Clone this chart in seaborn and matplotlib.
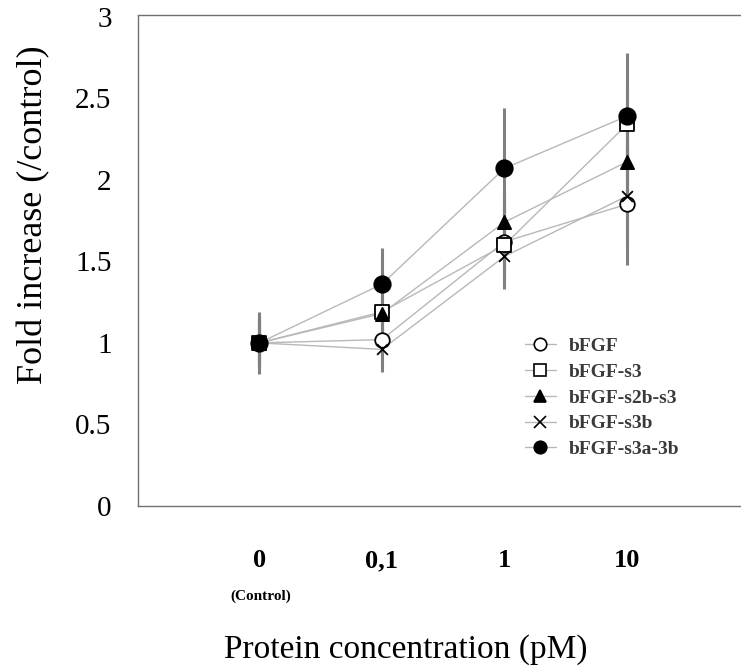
import numpy as np
import pandas as pd
import matplotlib
matplotlib.use("Agg")
import matplotlib.pyplot as plt
import seaborn as sns
from matplotlib.lines import Line2D

# data
concentrations = ["0", "0,1", "1", "10"]
series_names = ["bFGF", "bFGF-s3", "bFGF-s2b-s3", "bFGF-s3b", "bFGF-s3a-3b"]

bfgf = [1.00, 1.02, 1.62, 1.85]
bfgf_s3 = [1.00, 1.19, 1.60, 2.34]
bfgf_s2b_s3 = [1.00, 1.18, 1.74, 2.11]
bfgf_s3b = [1.00, 0.96, 1.53, 1.90]
bfgf_s3a_3b = [1.00, 1.36, 2.07, 2.39]

err_bfgf = [0.15, 0.10, 0.20, 0.37]
err_s3 = [0.15, 0.12, 0.27, 0.25]
err_s2b_s3 = [0.12, 0.10, 0.20, 0.20]
err_s3b = [0.18, 0.14, 0.18, 0.30]
err_s3a_3b = [0.19, 0.22, 0.37, 0.39]

values = [bfgf, bfgf_s3, bfgf_s2b_s3, bfgf_s3b, bfgf_s3a_3b]
errors = [err_bfgf, err_s3, err_s2b_s3, err_s3b, err_s3a_3b]

# marker styles: (marker, facecolor, size)
styles = {
    "bFGF": ("o", "white", 110),
    "bFGF-s3": ("s", "white", 100),
    "bFGF-s2b-s3": ("^", "black", 90),
    "bFGF-s3b": ("x", "black", 60),
    "bFGF-s3a-3b": ("o", "black", 140),
}

rows = []
for name, ys, es in zip(series_names, values, errors):
    for i, (y, e) in enumerate(zip(ys, es)):
        rows.append({"series": name, "pos": i, "fold": y, "err": e})
df = pd.DataFrame(rows)

sns.set_style("white")
plt.rcParams["font.family"] = ["Liberation Serif", "DejaVu Serif"]
plt.rcParams["text.color"] = "black"

fig = plt.figure(figsize=(7.41, 6.71), dpi=100)
ax = fig.add_axes([138 / 741, 1 - 506 / 671, 1 - 138 / 741, 491 / 671])

# error bars (drawn first, behind the lines)
for name in series_names:
    d = df[df["series"] == name]
    ax.errorbar(d["pos"], d["fold"], yerr=d["err"], fmt="none",
                ecolor="#808080", elinewidth=2.2, capsize=0, zorder=1)

# connecting lines
sns.lineplot(data=df, x="pos", y="fold", units="series", estimator=None,
             color="#b8b8b8", linewidth=1.0, ax=ax, zorder=2, legend=False)

# markers
for name in series_names:
    d = df[df["series"] == name]
    m, fc, s = styles[name]
    if m == "x":
        sns.scatterplot(x=d["pos"], y=d["fold"], marker="x", color="black",
                        s=s, linewidth=1.3, ax=ax, zorder=3, legend=False)
    else:
        sns.scatterplot(x=d["pos"], y=d["fold"], marker=m, facecolor=fc,
                        edgecolor="black", s=s, linewidth=1.3, ax=ax,
                        zorder=3, legend=False)

ax.set_xlim(-0.99, 3.93)
ax.set_ylim(0, 3.01)
ax.set_xticks(range(len(concentrations)))
ax.set_xticklabels(concentrations, fontsize=19, fontweight="bold", color="black")
ax.set_yticks([0, 0.5, 1, 1.5, 2, 2.5, 3])
ax.set_yticklabels(["0", "0.5", "1", "1.5", "2", "2.5", "3"], fontsize=21,
                   color="black")
ax.tick_params(axis="x", length=0, pad=31)
ax.tick_params(axis="y", length=0, pad=19)
ax.set_xlabel("")
ax.set_ylabel("")

for side in ["left", "bottom", "top"]:
    ax.spines[side].set_color("#707070")
    ax.spines[side].set_linewidth(1.0)
    ax.spines[side].set_linestyle((0, (2, 1)))
ax.spines["right"].set_visible(False)

# legend
handles = []
for name in series_names:
    m, fc, s = styles[name]
    handles.append(Line2D([0], [0], color="#b8b8b8", lw=1.0, marker=m,
                          markerfacecolor=fc, markeredgecolor="black",
                          markersize=9 if m != "x" else 8, markeredgewidth=1.2))
ax.legend(handles, series_names, loc="upper left",
          bbox_to_anchor=(369 / 603, 1 - 305 / 491), frameon=False,
          prop={"size": 14, "weight": "bold"}, labelcolor="#3a3a3a",
          handlelength=1.6, handletextpad=0.7, labelspacing=0.42)

fig.text(261 / 741, 1 - 596 / 671, "(Control)", fontsize=11, fontweight="bold",
         ha="center", va="center")
fig.text(406 / 741, 1 - 650 / 671, "Protein concentration (pM)", fontsize=24,
         ha="center", va="center")
fig.text(34 / 741, 1 - 215 / 671, "Fold increase (/control)", fontsize=26,
         rotation=90, ha="center", va="center")

fig.savefig("out.png", dpi=100)
